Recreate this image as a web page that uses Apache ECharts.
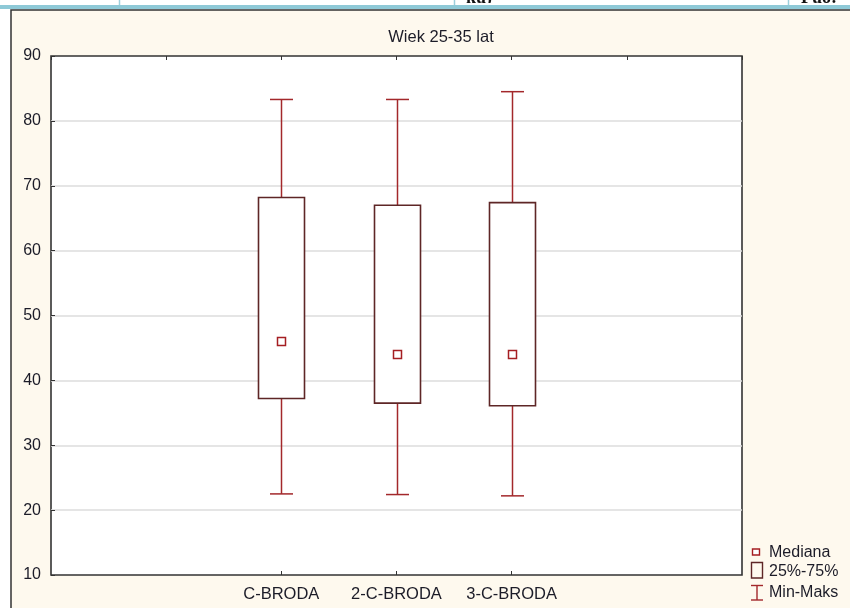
<!DOCTYPE html>
<html>
<head>
<meta charset="utf-8">
<title>Wiek 25-35 lat</title>
<script src="https://cdn.jsdelivr.net/npm/echarts@6/dist/echarts.min.js"></script>
<style>
  html, body { margin: 0; padding: 0; background: #ffffff; }
  #chart { width: 850px; height: 608px; }
</style>
</head>
<body>
<div id="chart"></div>
<script>
// Box-plot summary per group
const categories = ['C-BRODA', '2-C-BRODA', '3-C-BRODA'];
const minValues = [22.5, 22.4, 22.2];
const q1Values = [37.2, 36.5, 36.1];
const medianValues = [46.0, 44.0, 44.0];
const q3Values = [68.2, 67.0, 67.4];
const maxValues = [83.3, 83.3, 84.5];
const yTicks = [10, 20, 30, 40, 50, 60, 70, 80, 90];
const legendLabels = ['Mediana', '25%-75%', 'Min-Maks'];
const titleText = 'Wiek 25-35 lat';

// the x axis has two empty slots on each side of the groups
const pad = ['', ''];
const axisCategories = pad.concat(categories, pad);
const offset = pad.length;

const FONT = 'Arial, "Liberation Sans", sans-serif';
const WHISKER = '#a3282b';
const BOX = '#5e2626';
const MEDIAN = '#a51e22';
const TEXT = '#1c1c28';

const boxData = categories.map((c, i) => [
  i + offset, minValues[i], q1Values[i], medianValues[i], q3Values[i], maxValues[i]
]);

function renderBox(params, api) {
  const x = api.value(0);
  const pMin = api.coord([x, api.value(1)]);
  const pQ1 = api.coord([x, api.value(2)]);
  const pMed = api.coord([x, api.value(3)]);
  const pQ3 = api.coord([x, api.value(4)]);
  const pMax = api.coord([x, api.value(5)]);
  const cx = Math.round(pMed[0]) + 0.5;
  const boxHalf = 23;
  const capHalf = 11.5;
  const medHalf = 4;
  const wStyle = { stroke: WHISKER, lineWidth: 1.5, fill: null };
  return {
    type: 'group',
    children: [
      { type: 'line', shape: { x1: cx, y1: pMax[1], x2: cx, y2: pQ3[1] }, style: wStyle },
      { type: 'line', shape: { x1: cx - capHalf, y1: pMax[1], x2: cx + capHalf, y2: pMax[1] }, style: wStyle },
      { type: 'line', shape: { x1: cx, y1: pQ1[1], x2: cx, y2: pMin[1] }, style: wStyle },
      { type: 'line', shape: { x1: cx - capHalf, y1: pMin[1], x2: cx + capHalf, y2: pMin[1] }, style: wStyle },
      {
        type: 'rect',
        shape: { x: cx - boxHalf, y: pQ3[1], width: boxHalf * 2, height: pQ1[1] - pQ3[1] },
        style: { stroke: BOX, lineWidth: 1.6, fill: '#ffffff' }
      },
      {
        type: 'rect',
        shape: { x: cx - medHalf, y: pMed[1] - medHalf, width: medHalf * 2, height: medHalf * 2 },
        style: { stroke: MEDIAN, lineWidth: 1.5, fill: '#ffffff' }
      }
    ]
  };
}

const chart = echarts.init(document.getElementById('chart'), null, { renderer: 'canvas' });

const legendX = 769;
const legendY = [552.5, 571.5, 592.5];

chart.setOption({
  animation: false,
  backgroundColor: '#ffffff',
  title: {
    text: titleText,
    left: 436,
    top: 24,
    textAlign: 'center',
    textStyle: { fontFamily: FONT, fontSize: 16.5, fontWeight: 'normal', color: TEXT }
  },
  grid: {
    left: 51, top: 56, right: 108, bottom: 33,
    show: true,
    backgroundColor: '#ffffff',
    borderColor: '#333333',
    borderWidth: 1.6
  },
  xAxis: [
    {
      type: 'category',
      data: axisCategories,
      boundaryGap: false,
      position: 'bottom',
      axisLine: { show: false },
      axisTick: {
        show: true, inside: true, length: 4,
        interval: (idx, val) => val !== '',
        lineStyle: { color: '#333', width: 1 }
      },
      axisLabel: {
        interval: 0, margin: 11,
        fontFamily: FONT, fontSize: 16.5, color: TEXT
      },
      splitLine: { show: false }
    },
    {
      type: 'category',
      data: axisCategories,
      boundaryGap: false,
      position: 'top',
      axisLine: { show: false },
      axisTick: { show: true, inside: true, length: 4, interval: 0, lineStyle: { color: '#333', width: 1 } },
      axisLabel: { show: false },
      splitLine: { show: false }
    }
  ],
  yAxis: {
    type: 'value',
    min: yTicks[0],
    max: yTicks[yTicks.length - 1],
    interval: yTicks[1] - yTicks[0],
    axisLine: { show: false },
    axisTick: { show: true, inside: true, length: 4, lineStyle: { color: '#333', width: 1 } },
    axisLabel: {
      margin: 10,
      fontFamily: FONT, fontSize: 16, color: TEXT,
      formatter: v => (yTicks.includes(v) ? String(v) : '')
    },
    splitLine: { show: true, showMinLine: false, showMaxLine: false, lineStyle: { color: '#dcdcdc', width: 1.5 } }
  },
  series: [
    {
      type: 'custom',
      xAxisIndex: 0,
      renderItem: renderBox,
      encode: { x: 0, y: [1, 2, 3, 4, 5] },
      data: boxData,
      z: 5
    }
  ],
  graphic: [
    // table strip above the chart panel
    { type: 'text', z: -30, style: { text: 'ku)', x: 466, y: 7, textVerticalAlign: 'bottom', font: 'bold 18px "Liberation Serif", serif', fill: '#111' } },
    { type: 'text', z: -30, style: { text: 'Fuo:', x: 801, y: 7, textVerticalAlign: 'bottom', font: 'bold 18px "Liberation Serif", serif', fill: '#111' } },
    { type: 'rect', z: -25, shape: { x: 0, y: 3, width: 850, height: 5 }, style: { fill: '#ffffff' } },
    { type: 'line', z: -24, shape: { x1: 119.5, y1: 0, x2: 119.5, y2: 7 }, style: { stroke: '#9ccfdc', lineWidth: 1.5 } },
    { type: 'line', z: -24, shape: { x1: 454.5, y1: 0, x2: 454.5, y2: 7 }, style: { stroke: '#9ccfdc', lineWidth: 1.5 } },
    { type: 'line', z: -24, shape: { x1: 788.5, y1: 0, x2: 788.5, y2: 7 }, style: { stroke: '#9ccfdc', lineWidth: 1.5 } },
    { type: 'rect', z: -24, shape: { x: 0, y: 5, width: 850, height: 4 }, style: { fill: '#8ec9d7' } },
    // chart panel
    {
      type: 'rect', z: -20,
      shape: { x: 11, y: 10, width: 860, height: 620 },
      style: { fill: '#fef9ee', stroke: '#333333', lineWidth: 1.5 }
    },
    // legend
    {
      type: 'rect', z: 10,
      shape: { x: 752.5, y: 549, width: 7, height: 6 },
      style: { fill: '#ffffff', stroke: MEDIAN, lineWidth: 1.4 }
    },
    {
      type: 'rect', z: 10,
      shape: { x: 751.5, y: 562.5, width: 11, height: 15.5 },
      style: { fill: 'none', stroke: BOX, lineWidth: 1.4 }
    },
    {
      type: 'group', z: 10,
      children: [
        { type: 'line', shape: { x1: 757, y1: 585.5, x2: 757, y2: 600 }, style: { stroke: WHISKER, lineWidth: 1.4 } },
        { type: 'line', shape: { x1: 751, y1: 585.5, x2: 763, y2: 585.5 }, style: { stroke: WHISKER, lineWidth: 1.4 } },
        { type: 'line', shape: { x1: 751, y1: 600, x2: 763, y2: 600 }, style: { stroke: WHISKER, lineWidth: 1.4 } }
      ]
    }
  ].concat(legendLabels.map((t, i) => ({
    type: 'text', z: 10,
    style: {
      text: t, x: legendX, y: legendY[i],
      textVerticalAlign: 'middle',
      font: '16px ' + FONT,
      fill: TEXT
    }
  })))
});
</script>
</body>
</html>
